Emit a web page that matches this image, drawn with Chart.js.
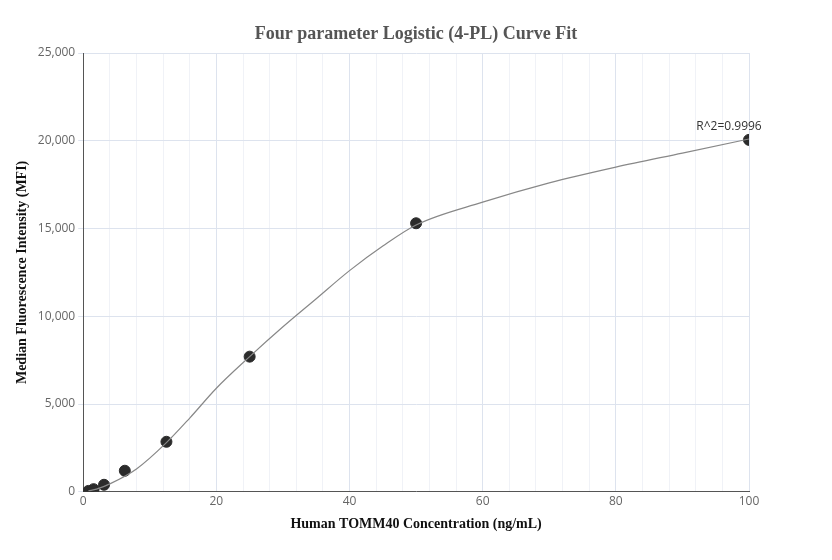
<!DOCTYPE html>
<html><head><script src="https://cdn.jsdelivr.net/npm/chart.js"></script>
<style>body{margin:0;background:#fff}#w{width:832px;height:560px}</style></head>
<body><div id="w"><canvas id="c"></canvas></div>
<script>
const pointX=[0.78,1.56,3.125,6.25,12.5,25,50,100];
const pointY=[50,150,400,1200,2850,7700,15300,20050];
const curveX=[0.78,2,4,8,12.5,16,20,25,30,35,40,45,50,60,70,80,90,100];
const curveY=[50,150,450,1300,2800,4200,5900,7700,9400,11000,12600,14000,15200,16500,17600,18500,19300,20100];
const label="R^2=0.9996";
const titleText='Four parameter Logistic (4-PL) Curve Fit';
new Chart(document.getElementById('c'),{
type:'scatter',
data:{datasets:[
{type:'line',data:curveX.map((x,i)=>({x,y:curveY[i]})),borderColor:'#888',borderWidth:1.2,pointRadius:0,fill:false,cubicInterpolationMode:'monotone'},
{data:pointX.map((x,i)=>({x,y:pointY[i]})),backgroundColor:'#2b2b2b',borderColor:'#2b2b2b',pointRadius:5.5}
]},
options:{responsive:true,maintainAspectRatio:false,animation:false,
layout:{padding:{left:10,right:83,top:53,bottom:23}},
plugins:{legend:{display:false},tooltip:{enabled:false},title:{display:false}},
scales:{
x:{type:'linear',min:0,max:100,ticks:{stepSize:4,color:'#666',font:{family:'Open Sans',size:12},autoSkip:false,maxRotation:0,callback:v=>v%20===0?v:''},
grid:{color:c=>c.tick&&c.tick.value%20===0?'#dde3ee':'#f0f2f7',drawTicks:false},border:{color:'#555'},
title:{display:true,text:'Human TOMM40 Concentration (ng/mL)',color:'#111',font:{family:'Liberation Serif',size:14,weight:'bold'}}},
y:{min:0,max:25000,ticks:{stepSize:5000,color:'#666',font:{family:'Open Sans',size:12},callback:v=>v.toLocaleString('en-US')},
grid:{color:'#dde3ee',drawTicks:true,tickLength:5},border:{color:'#555'},
title:{display:true,text:'Median Fluorescence Intensity (MFI)',color:'#111',font:{family:'Liberation Serif',size:14,weight:'bold'}}}
}},
plugins:[{id:'lbl',afterDatasetsDraw(ch){const m=ch.getDatasetMeta(1).data[7];const g=ch.ctx;g.save();g.font='12px Open Sans';g.fillStyle='#333';g.textAlign='center';g.fillText(label,m.x-20,m.y-10);
g.font='bold 18px Liberation Serif';g.fillStyle='#555';g.fillText(titleText,416,39);g.restore();}}]
});
</script></body></html>
